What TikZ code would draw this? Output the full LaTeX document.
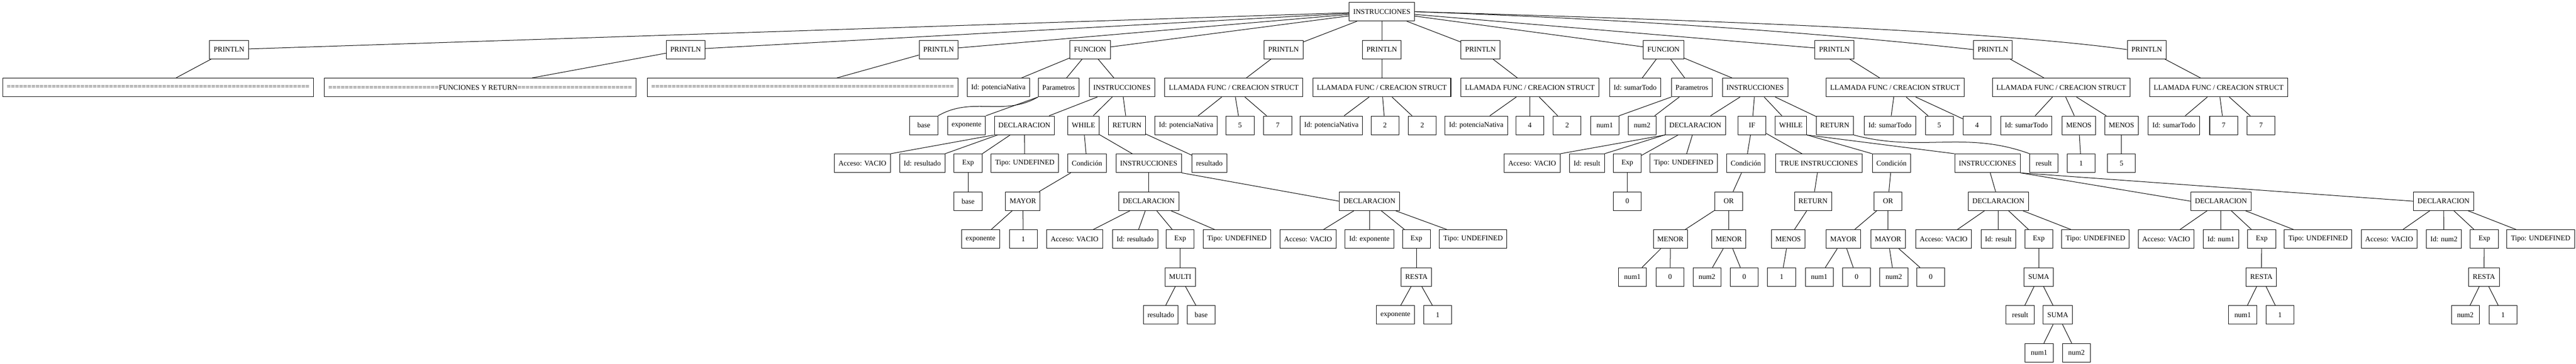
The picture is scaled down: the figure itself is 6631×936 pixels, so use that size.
\documentclass[tikz,border=0pt]{standalone}
\usepackage{fontspec}
\setmainfont{Liberation Serif}
\newcommand{\gvf}{\fontsize{14bp}{16bp}\selectfont}
\tikzset{
  box/.style={draw, line width=1bp, minimum height=36bp, minimum width=54bp, inner xsep=7.92bp, inner ysep=2bp, font=\gvf},
  lnk/.style={line width=1bp}
}
\begin{document}
\begin{tikzpicture}[x=0.75bp,y=-0.75bp]
\useasboundingbox (0,0) rectangle (6631,936);
% level 0
\node[box] (root) at (3557,30) {INSTRUCCIONES};
% level 1
\node[box] (p1) at (589.5,127.5) {PRINTLN};
\node[box] (p2) at (1765,127.5) {PRINTLN};
\node[box] (p3) at (2416,127.5) {PRINTLN};
\node[box] (f1) at (2806,127.5) {FUNCION};
\node[box] (p4) at (3304,127.5) {PRINTLN};
\node[box] (p5) at (3557,127.5) {PRINTLN};
\node[box] (p6) at (3811,127.5) {PRINTLN};
\node[box] (f2) at (4282,127.5) {FUNCION};
\node[box] (p7) at (4722,127.5) {PRINTLN};
\node[box] (p8) at (5130,127.5) {PRINTLN};
\node[box] (p9) at (5526,127.5) {PRINTLN};
% level 2
\node[box] (la) at (407,225) {==========================================================================};
\node[box] (lb) at (1236,225) {===========================FUNCIONES Y RETURN============================};
\node[box] (lc) at (2066,225) {==========================================================================};
\node[box] (f1id) at (2570,225) {Id: potenciaNativa};
\node[box] (f1par) at (2725,225) {Parametros};
\node[box] (f1ins) at (2888,225) {INSTRUCCIONES};
\node[box] (ll1) at (3176,225) {LLAMADA FUNC / CREACION STRUCT};
\node[box] (ll2) at (3557,225) {LLAMADA FUNC / CREACION STRUCT};
\node[box] (ll3) at (3938,225) {LLAMADA FUNC / CREACION STRUCT};
\node[box] (f2id) at (4209,225) {Id: sumarTodo};
\node[box] (f2par) at (4355,225) {Parametros};
\node[box] (f2ins) at (4518,225) {INSTRUCCIONES};
\node[box] (ll4) at (4878,225) {LLAMADA FUNC / CREACION STRUCT};
\node[box] (ll5) at (5306,225) {LLAMADA FUNC / CREACION STRUCT};
\node[box] (ll6) at (5711,225) {LLAMADA FUNC / CREACION STRUCT};
% level 3
\node[box] (f1base) at (2378,322.5) {base};
\node[box] (f1expo) at (2488,322.5) {exponente};
\node[box] (f1decl) at (2637,322.5) {DECLARACION};
\node[box] (f1wh) at (2789,322.5) {WHILE};
\node[box] (f1ret) at (2901,322.5) {RETURN};
\node[box] (ll1a) at (3053,322.5) {Id: potenciaNativa};
\node[box] (ll1b) at (3192,322.5) {5};
\node[box] (ll1c) at (3289,322.5) {7};
\node[box] (ll2a) at (3427,322.5) {Id: potenciaNativa};
\node[box] (ll2b) at (3565,322.5) {2};
\node[box] (ll2c) at (3661,322.5) {2};
\node[box] (ll3a) at (3800,322.5) {Id: potenciaNativa};
\node[box] (ll3b) at (3938,322.5) {4};
\node[box] (ll3c) at (4034,322.5) {2};
\node[box] (f2n1) at (4131,322.5) {num1};
\node[box] (f2n2) at (4227,322.5) {num2};
\node[box] (f2decl) at (4364,322.5) {DECLARACION};
\node[box] (f2if) at (4510,322.5) {IF};
\node[box] (f2wh) at (4610,322.5) {WHILE};
\node[box] (f2ret) at (4723,322.5) {RETURN};
\node[box] (ll4a) at (4865,322.5) {Id: sumarTodo};
\node[box] (ll4b) at (4992,322.5) {5};
\node[box] (ll4c) at (5089,322.5) {4};
\node[box] (ll5a) at (5216,322.5) {Id: sumarTodo};
\node[box] (ll5b) at (5351,322.5) {MENOS};
\node[box] (ll5c) at (5461,322.5) {MENOS};
\node[box] (ll6a) at (5596,322.5) {Id: sumarTodo};
\node[box] (ll6b) at (5724,322.5) {7};
\node[box] (ll6c) at (5820,322.5) {7};
% level 4
\node[box] (d1acc) at (2220,420) {Acceso: VACIO};
\node[box] (d1id) at (2374,420) {Id: resultado};
\node[box] (d1exp) at (2492,420) {Exp};
\node[box] (d1tipo) at (2638,420) {Tipo: UNDEFINED};
\node[box] (w1cond) at (2798,420) {Condición};
\node[box] (w1ins) at (2957,420) {INSTRUCCIONES};
\node[box] (r1val) at (3113,420) {resultado};
\node[box] (d2acc) at (3944,420) {Acceso: VACIO};
\node[box] (d2id) at (4085,420) {Id: result};
\node[box] (d2exp) at (4189,420) {Exp};
\node[box] (d2tipo) at (4334,420) {Tipo: UNDEFINED};
\node[box] (ifcond) at (4494,420) {Condición};
\node[box] (iftrue) at (4682,420) {TRUE INSTRUCCIONES};
\node[box] (w2cond) at (4869,420) {Condición};
\node[box] (w2ins) at (5116,420) {INSTRUCCIONES};
\node[box] (r2val) at (5261,420) {result};
\node[box] (m1val) at (5357,420) {1};
\node[box] (m2val) at (5461,420) {5};
% level 5
\node[box] (d1expv) at (2492,517.5) {base};
\node[box] (w1may) at (2633,517.5) {MAYOR};
\node[box] (w1da) at (2957,517.5) {DECLARACION};
\node[box] (w1db) at (3525,517.5) {DECLARACION};
\node[box] (d2expv) at (4189,517.5) {0};
\node[box] (ifor) at (4450,517.5) {OR};
\node[box] (tret) at (4667,517.5) {RETURN};
\node[box] (w2or) at (4860,517.5) {OR};
\node[box] (w2da) at (5144,517.5) {DECLARACION};
\node[box] (w2db) at (5717,517.5) {DECLARACION};
\node[box] (w2dc) at (6290,517.5) {DECLARACION};
% level 6
\node[box] (mayA) at (2524,615) {exponente};
\node[box] (mayB) at (2634,615) {1};
\node[box] (waAcc) at (2766,615) {Acceso: VACIO};
\node[box] (waId) at (2922,615) {Id: resultado};
\node[box] (waExp) at (3038,615) {Exp};
\node[box] (waTipo) at (3184,615) {Tipo: UNDEFINED};
\node[box] (wbAcc) at (3367,615) {Acceso: VACIO};
\node[box] (wbId) at (3525,615) {Id: exponente};
\node[box] (wbExp) at (3646,615) {Exp};
\node[box] (wbTipo) at (3792,615) {Tipo: UNDEFINED};
\node[box] (men1) at (4300,615) {MENOR};
\node[box] (men2) at (4450,615) {MENOR};
\node[box] (menos) at (4603,615) {MENOS};
\node[box] (may1) at (4745,615) {MAYOR};
\node[box] (may2) at (4860,615) {MAYOR};
\node[box] (xaAcc) at (5003,615) {Acceso: VACIO};
\node[box] (xaId) at (5144,615) {Id: result};
\node[box] (xaExp) at (5248,615) {Exp};
\node[box] (xaTipo) at (5394,615) {Tipo: UNDEFINED};
\node[box] (xbAcc) at (5576,615) {Acceso: VACIO};
\node[box] (xbId) at (5717,615) {Id: num1};
\node[box] (xbExp) at (5822,615) {Exp};
\node[box] (xbTipo) at (5967,615) {Tipo: UNDEFINED};
\node[box] (xcAcc) at (6150,615) {Acceso: VACIO};
\node[box] (xcId) at (6291,615) {Id: num2};
\node[box] (xcExp) at (6395,615) {Exp};
\node[box] (xcTipo) at (6540,615) {Tipo: UNDEFINED};
% level 7
\node[box] (multi) at (3038,712.5) {MULTI};
\node[box] (resta1) at (3646,712.5) {RESTA};
\node[box] (men1a) at (4202,712.5) {num1};
\node[box] (men1b) at (4299,712.5) {0};
\node[box] (men2a) at (4394,712.5) {num2};
\node[box] (men2b) at (4490,712.5) {0};
\node[box] (menosa) at (4586,712.5) {1};
\node[box] (may1a) at (4683,712.5) {num1};
\node[box] (may1b) at (4779,712.5) {0};
\node[box] (may2a) at (4875,712.5) {num2};
\node[box] (may2b) at (4970,712.5) {0};
\node[box] (suma1) at (5248,712.5) {SUMA};
\node[box] (resta2) at (5821,712.5) {RESTA};
\node[box] (resta3) at (6394,712.5) {RESTA};
% level 8
\node[box] (multa) at (2988,810) {resultado};
\node[box] (multb) at (3092,810) {base};
\node[box] (rs1a) at (3592,810) {exponente};
\node[box] (rs1b) at (3701,810) {1};
\node[box] (sumaa) at (5200,810) {result};
\node[box] (suma2) at (5297,810) {SUMA};
\node[box] (rs2a) at (5773,810) {num1};
\node[box] (rs2b) at (5869,810) {1};
\node[box] (rs3a) at (6346,810) {num2};
\node[box] (rs3b) at (6443,810) {1};
% level 9
\node[box] (s2a) at (5249,907.5) {num1};
\node[box] (s2b) at (5345,907.5) {num2};
% plain edges
\foreach \a/\b in {root/p1,root/p2,root/p3,root/f1,root/p4,root/p5,root/p6,root/f2,root/p7,
  p1/la,p2/lb,p3/lc,f1/f1id,f1/f1par,f1/f1ins,p4/ll1,p5/ll2,p6/ll3,f2/f2id,f2/f2par,f2/f2ins,p7/ll4,p8/ll5,p9/ll6,
  f1ins/f1decl,f1ins/f1wh,f1ins/f1ret,
  ll1/ll1a,ll1/ll1b,ll1/ll1c,ll2/ll2a,ll2/ll2b,ll2/ll2c,ll3/ll3a,ll3/ll3b,ll3/ll3c,
  f2par/f2n2,f2ins/f2decl,f2ins/f2if,f2ins/f2wh,f2ins/f2ret,
  ll4/ll4a,ll4/ll4b,ll4/ll4c,ll5/ll5a,ll5/ll5b,ll5/ll5c,ll6/ll6a,ll6/ll6b,ll6/ll6c,
  f1decl/d1exp,f1decl/d1tipo,f1wh/w1cond,f1wh/w1ins,f1ret/r1val,
  f2decl/d2exp,f2decl/d2tipo,f2if/ifcond,f2if/iftrue,ll5b/m1val,ll5c/m2val,
  d1exp/d1expv,w1cond/w1may,w1ins/w1da,d2exp/d2expv,ifcond/ifor,iftrue/tret,w2cond/w2or,w2ins/w2da,
  w1may/mayA,w1may/mayB,w1da/waAcc,w1da/waId,w1da/waExp,w1da/waTipo,
  w1db/wbAcc,w1db/wbId,w1db/wbExp,w1db/wbTipo,ifor/men1,ifor/men2,tret/menos,w2or/may1,w2or/may2,
  w2da/xaAcc,w2da/xaId,w2da/xaExp,w2da/xaTipo,w2db/xbAcc,w2db/xbId,w2db/xbExp,w2db/xbTipo,
  w2dc/xcAcc,w2dc/xcId,w2dc/xcExp,w2dc/xcTipo,
  waExp/multi,wbExp/resta1,men1/men1a,men1/men1b,men2/men2a,men2/men2b,menos/menosa,
  may1/may1a,may1/may1b,may2/may2a,may2/may2b,xaExp/suma1,xbExp/resta2,xcExp/resta3,
  multi/multa,multi/multb,resta1/rs1a,resta1/rs1b,suma1/sumaa,suma1/suma2,resta2/rs2a,resta2/rs2b,
  resta3/rs3a,resta3/rs3b,suma2/s2a,suma2/s2b}
  \draw[lnk] (\a) -- (\b);
% special edges
\draw[lnk] (root.east) .. controls ([shift={(558,20)}]root.east) and ([shift={(-379,-42)}]p8.west) .. (p8.west);
\draw[lnk] (root.east) .. controls ([shift={(658,20)}]root.east) and ([shift={(-375,-52)}]p9.west) .. (p9.west);
\draw[lnk] (f1par.south west) to[out=-150,in=30] (f1base.north east);
\draw[lnk] (f1par.south west) -- (f1expo.north east);
\draw[lnk] (f2par.south west) -- (f2n1.north east);
\draw[lnk] (f1decl.south west) -- (d1acc.north east);
\draw[lnk] (f1decl) -- (d1id.north east);
\draw[lnk] (f2decl.south west) -- (d2acc.north east);
\draw[lnk] (f2decl) -- (d2id.north east);
\draw[lnk] (f2wh.south east) -- (w2cond.north west);
\draw[lnk] (f2wh.south east) -- (w2ins.north west);
\draw[lnk] (f2ret.south east) to[out=-15,in=160] (r2val.north west);
\draw[lnk] (w1ins.south east) -- (w1db.west);
\draw[lnk] (w2ins.south east) -- (w2db.west);
\draw[lnk] (w2ins.south east) -- (w2dc.west);
\end{tikzpicture}
\end{document}
